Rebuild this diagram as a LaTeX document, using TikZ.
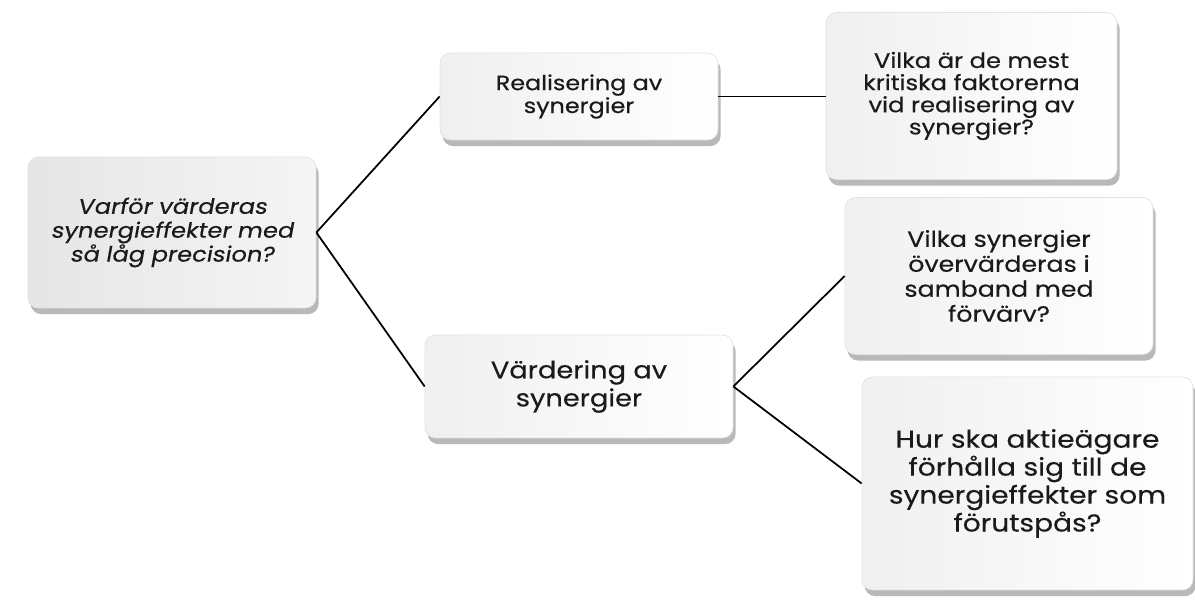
\documentclass[tikz,border=0pt]{standalone}
\usepackage{fontspec}
\setmainfont[FakeStretch=1.15,FakeBold=0.4]{Poppins}
\newfontfamily\slantfont[FakeSlant=0.18,FakeStretch=1.15,FakeBold=0.4]{Poppins}
\usepackage{xcolor}
\usetikzlibrary{shadows}
\definecolor{textGray}{HTML}{1A1A1A}
\definecolor{boxEdge}{HTML}{E2E2E2}

\tikzset{
    frage/.style={
        draw=boxEdge,
        rounded corners=6pt,
        left color=gray!12,
        right color=white,
        align=center,
        text=textGray,
        drop shadow={
            shadow xshift=1.5pt,
            shadow yshift=-3.5pt,
            fill=black!55
        }
    },
    rotbox/.style={
        frage,
        left color=gray!20,
        right color=gray!8
    },
    linje/.style={
        draw=black,
        line width=1pt
    }
}

\begin{document}
\begin{tikzpicture}

        % Ram
        \useasboundingbox (0,0) rectangle (23.9,12.02);

        % Huvudfråga
        \node[
            rotbox,
            minimum width=5.76cm,
            minimum height=3.02cm,
            font=\slantfont\fontsize{12}{13.6}\selectfont
        ] (rot) at (3.44,7.37) {
            Varför värderas\\
            synergieffekter med\\
            så låg precision?
        };

        % =====================================================
        % GREN 1
        % =====================================================

        % Realisering
        \node[
            frage,
            minimum width=5.56cm,
            minimum height=1.74cm,
            font=\fontsize{11.8}{13}\selectfont
        ] (real) at (11.58,10.09) {
            Realisering av\\
            synergier
        };

        % Kritiska faktorer
        \node[
            frage,
            minimum width=5.82cm,
            minimum height=3.34cm,
            font=\fontsize{12}{12.6}\selectfont
        ] (fraga1) at (19.43,10.1) {
            Vilka är de mest\\
            kritiska faktorerna\\
            vid realisering av\\
            synergier?
        };

        % =====================================================
        % GREN 2
        % =====================================================

        % Värdering
        \node[
            frage,
            minimum width=6.16cm,
            minimum height=2.06cm,
            font=\fontsize{13.5}{16}\selectfont
        ] (vard) at (11.58,4.29) {
            Värdering av\\
            synergier
        };

        % Övervärdering
        \node[
            frage,
            minimum width=6.16cm,
            minimum height=3.14cm,
            font=\fontsize{12.5}{14.2}\selectfont
        ] (fraga2) at (19.98,6.5) {
            Vilka synergier\\
            övervärderas i\\
            samband med\\
            förvärv?
        };

        % Aktieägare
        \node[
            frage,
            minimum width=6.62cm,
            minimum height=4.26cm,
            font=\fontsize{13.9}{15.9}\selectfont
        ] (fraga3) at (20.55,2.35) {
            Hur ska aktieägare\\
            förhålla sig till de\\
            synergieffekter som\\
            förutspås?
        };

        % Linjer
        \draw[linje] (rot.east) -- (real.west);
        \draw[linje] (rot.east) -- (vard.west);
        \draw[linje] (real.east) -- (real.east -| fraga1.west);
        \draw[linje] (vard.east) -- (fraga2.west);
        \draw[linje] (vard.east) -- (fraga3.west);

    \end{tikzpicture}
\end{document}
